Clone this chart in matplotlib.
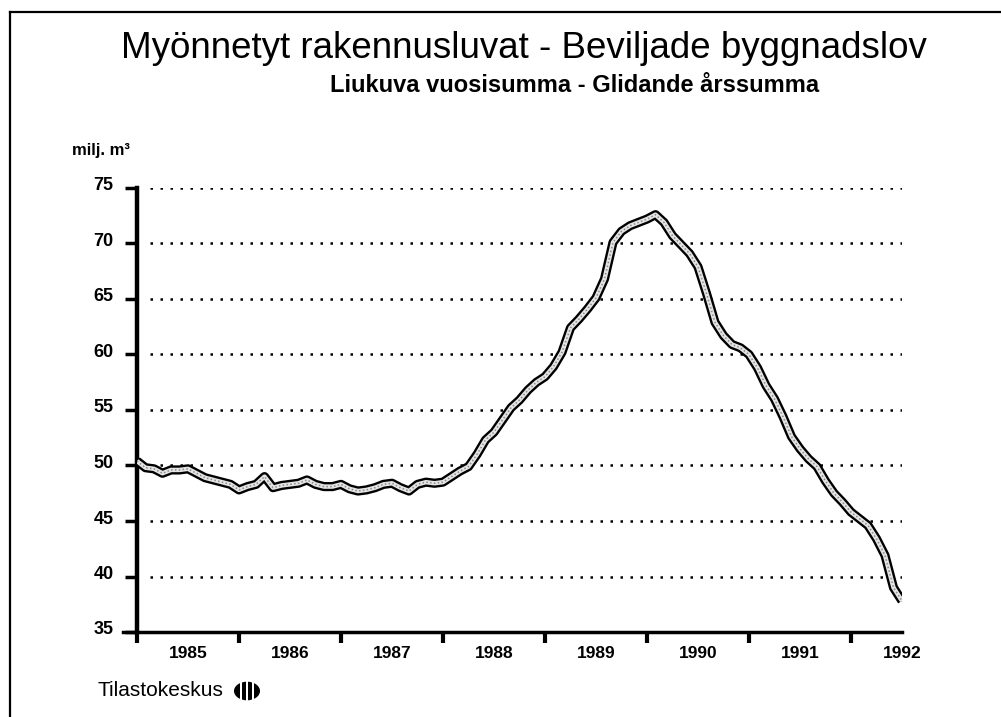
import matplotlib
matplotlib.use("Agg")
import matplotlib.pyplot as plt
import matplotlib.transforms as mtransforms
from matplotlib.lines import Line2D
from matplotlib.patches import Circle, Rectangle
import numpy as np

plt.rcParams['font.family'] = ['Liberation Sans', 'DejaVu Sans']

# monthly moving annual sum, Jan 1985 -> Jul 1992 (milj. m3)
startYear = 1985
volume = [
    50.4, 49.8, 49.7, 49.3, 49.6, 49.6, 49.7, 49.3, 48.9, 48.7, 48.5, 48.3,
    47.8, 48.1, 48.3, 49.0, 48.0, 48.2, 48.3, 48.4, 48.7, 48.3, 48.1, 48.1,
    48.3, 47.9, 47.7, 47.8, 48.0, 48.3, 48.4, 48.0, 47.7, 48.3, 48.5, 48.4,
    48.5, 49.0, 49.5, 49.9, 51.0, 52.3, 53.0, 54.1, 55.2, 55.9, 56.8, 57.5,
    58.0, 58.9, 60.2, 62.4, 63.2, 64.1, 65.1, 66.8, 70.1, 71.1, 71.6, 71.9,
    72.2, 72.6, 71.9, 70.7, 69.9, 69.1, 67.9, 65.5, 62.9, 61.7, 60.9, 60.6,
    60.0, 58.8, 57.2, 56.0, 54.4, 52.6, 51.5, 50.6, 49.9, 48.6, 47.5, 46.7,
    45.8, 45.2, 44.6, 43.4, 41.9, 39.0, 37.8,
]
years = [1985, 1986, 1987, 1988, 1989, 1990, 1991, 1992]
yTicks = [35, 40, 45, 50, 55, 60, 65, 70, 75]

titleText = "Myönnetyt rakennusluvat - Beviljade byggnadslov"
subtitleText = "Liukuva vuosisumma - Glidande årssumma"
unitText = "milj. m³"
sourceText = "Tilastokeskus"

W, H = 1001, 717
fig = plt.figure(figsize=(W / 100, H / 100), dpi=100)
fig.patch.set_facecolor("white")

def fx(px):
    return px / W

def fy(py):
    return 1 - py / H

ax = fig.add_axes([fx(137), fy(632), fx(902) - fx(137), fy(188) - fy(632)])

t = startYear + np.arange(len(volume)) / 12.0
ax.plot(t, volume, color="black", lw=6.6, solid_capstyle="butt", solid_joinstyle="round", zorder=3)
ax.plot(t, volume, color="#e4e4e4", lw=3.2, solid_capstyle="butt", solid_joinstyle="round", zorder=4)
ax.plot(t, volume, color="#8a8a8a", lw=1.1, dashes=(1, 1.5), zorder=5)

ax.set_xlim(1985, 1992.5)
ax.set_ylim(35, 75)

# dotted grid
for v in yTicks[1:]:
    ax.axhline(v, xmin=0.017, xmax=1.0, color="black", lw=1.8, dashes=(1, 3.0), zorder=1)

for s in ["top", "right"]:
    ax.spines[s].set_visible(False)
ax.spines["left"].set_linewidth(3.2)
ax.spines["bottom"].set_linewidth(2.5)
ax.spines["bottom"].set_bounds(1985 - 14 / 102.0, 1992.5)

ax.set_yticks(yTicks)
ax.set_yticklabels([str(v) for v in yTicks], fontsize=13, fontweight="bold")
ax.tick_params(axis="y", direction="out", length=9, width=2.5, pad=8)

ax.set_xticks(years)
ax.set_xticklabels([])
ax.set_xticks([y + 0.5 for y in years], minor=True)
ax.set_xticklabels([str(y) for y in years], minor=True, fontsize=12.5, fontweight="bold")
ax.tick_params(axis="x", which="major", direction="out", length=8, width=3)
ax.tick_params(axis="x", which="minor", length=0, pad=10)

# nudge y labels up a little so they sit above the tick
shift = mtransforms.ScaledTranslation(0, 4 / 100, fig.dpi_scale_trans)
for lab in ax.get_yticklabels():
    lab.set_transform(lab.get_transform() + shift)

fig.text(fx(524), fy(49), titleText, ha="center", va="center", fontsize=26.5)
fig.text(fx(575), fy(86), subtitleText, ha="center", va="center", fontsize=17, fontweight="bold")
fig.text(fx(72), fy(151), unitText, ha="left", va="center", fontsize=12, fontweight="bold")
fig.text(fx(97), fy(690), sourceText, ha="left", va="center", fontsize=15)

# small round logo made of bars
cx, cy, r = 247, 691, 13
fig.patches.append(Circle((fx(cx), fy(cy)), r / W, transform=fig.transFigure,
                          facecolor="black", edgecolor="none"))
for off in [-6, 0, 6]:
    fig.patches.append(Rectangle((fx(cx + off - 0.9), fy(cy + r + 1)), 1.8 / W, (2 * r + 2) / H,
                                 transform=fig.transFigure, facecolor="white", edgecolor="none"))

# outer frame (left and top edges)
fig.add_artist(Line2D([fx(10), fx(10)], [fy(12), 0], color="black", lw=1.6))
fig.add_artist(Line2D([fx(10), 1], [fy(12), fy(12)], color="black", lw=1.6))

fig.savefig("out.png", dpi=100, facecolor="white")
